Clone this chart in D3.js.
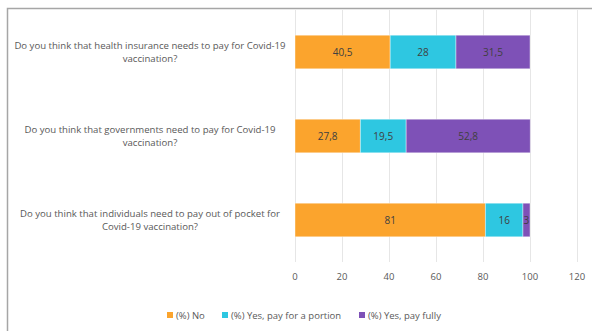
<!DOCTYPE html>
<html>
<head>
<meta charset="utf-8">
<script src="https://cdn.jsdelivr.net/npm/d3@7"></script>
<style>
  body { margin: 0; background: #fff; }
  text { font-family: "Open Sans", sans-serif; fill: #595959; }
</style>
</head>
<body>
<svg id="chart" width="592" height="331"></svg>
<script>
// questions, each wrapped to two lines as in the picture
const questions = [
    ["Do you think that health insurance needs to pay for Covid-19", "vaccination?"],
    ["Do you think that governments need to pay for Covid-19", "vaccination?"],
    ["Do you think that individuals need to pay out of pocket for", "Covid-19 vaccination?"]
];
const seriesNames = ["(%) No", "(%) Yes, pay for a portion", "(%) Yes, pay fully"];
const noValues = [40.5, 27.8, 81];
const portionValues = [28, 19.5, 16];
const fullyValues = [31.5, 52.8, 3];
const xTicks = [0, 20, 40, 60, 80, 100, 120];
const colors = ["#FBA42D", "#2EC7E1", "#7E51B7"];

const svg = d3.select("#chart");

// outer frame (partly cut off at right and bottom)
svg.append("path")
    .attr("d", "M7.5,331 V8.5 H592")
    .attr("fill", "none")
    .attr("stroke", "#a6a6a6")
    .attr("stroke-width", 1.5);

const x = d3.scaleLinear().domain([0, 120]).range([295, 577]);
const y = d3.scaleBand()
    .domain(d3.range(questions.length))
    .range([10, 262])
    .paddingInner(0.6)
    .paddingOuter(0.3);

// grid lines
svg.append("g")
    .selectAll("line")
    .data(xTicks)
    .join("line")
    .attr("x1", d => x(d) + 0.5)
    .attr("x2", d => x(d) + 0.5)
    .attr("y1", 10)
    .attr("y2", 262)
    .attr("stroke", "#e6e6e6")
    .attr("stroke-width", 1);

// tick labels
svg.append("g")
    .selectAll("text")
    .data(xTicks)
    .join("text")
    .attr("x", d => x(d))
    .attr("y", 280)
    .attr("text-anchor", "middle")
    .style("font-size", "9.5px")
    .text(d => d);

// stack the series
const rows = questions.map((q, i) => ({
    i: i,
    values: [noValues[i], portionValues[i], fullyValues[i]]
}));

rows.forEach(row => {
    let start = 0;
    row.values.forEach((v, s) => {
        const g = svg.append("g");
        g.append("rect")
            .attr("x", x(start))
            .attr("y", y(row.i))
            .attr("width", x(start + v) - x(start))
            .attr("height", y.bandwidth())
            .attr("fill", colors[s])
            .attr("stroke", "#ffffff")
            .attr("stroke-opacity", 0.5)
            .attr("stroke-width", 0.8);
        g.append("text")
            .attr("x", (x(start) + x(start + v)) / 2)
            .attr("y", y(row.i) + y.bandwidth() / 2)
            .attr("dy", "0.35em")
            .attr("text-anchor", "middle")
            .style("font-size", "10px")
            .style("fill", "#404040")
            .text(String(v).replace(".", ","));
        start += v;
    });
});

// category labels
questions.forEach((lines, i) => {
    const cy = y(i) + y.bandwidth() / 2;
    const t = svg.append("text")
        .attr("text-anchor", "middle")
        .style("font-size", "9.6px");
    lines.forEach((line, k) => {
        t.append("tspan")
            .attr("x", 150)
            .attr("y", cy - 3 + k * 13)
            .text(line);
    });
});

// legend
const legendX = [167, 222, 359];
seriesNames.forEach((name, s) => {
    svg.append("rect")
        .attr("x", legendX[s])
        .attr("y", 312)
        .attr("width", 6)
        .attr("height", 6)
        .attr("fill", colors[s]);
    svg.append("text")
        .attr("x", legendX[s] + 9)
        .attr("y", 318.5)
        .style("font-size", "9.5px")
        .text(name);
});
</script>
</body>
</html>
